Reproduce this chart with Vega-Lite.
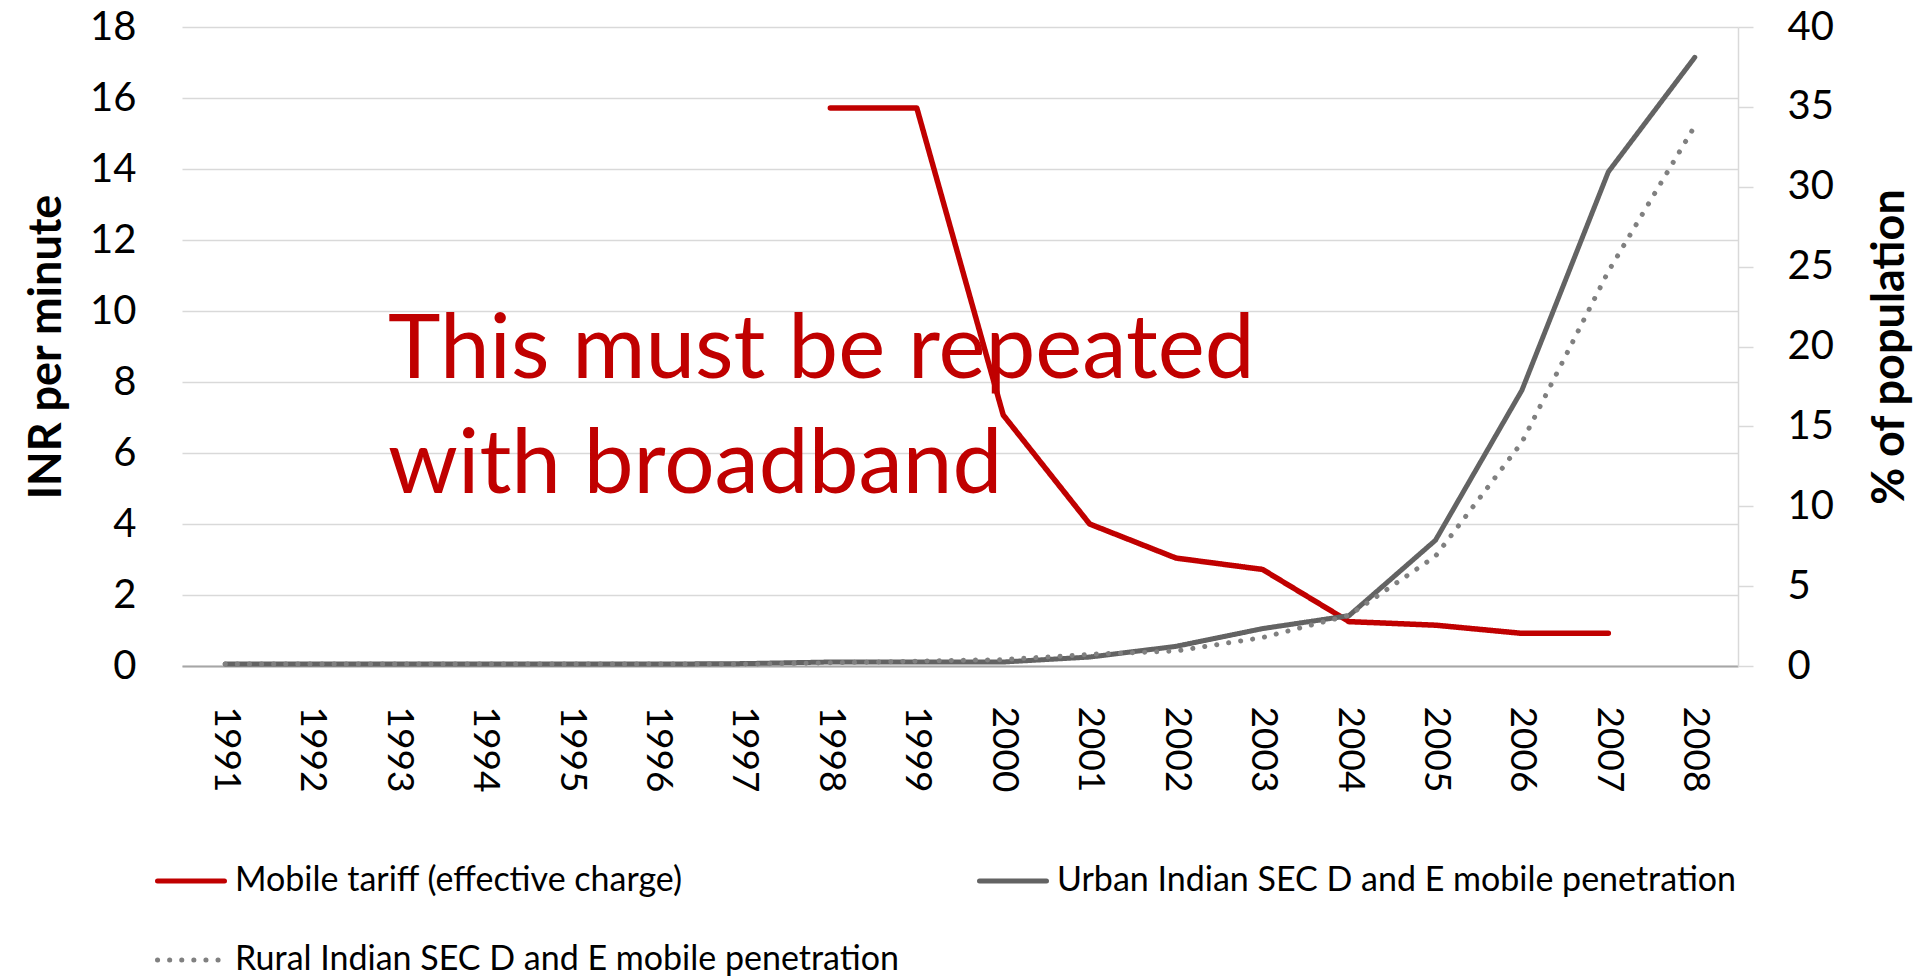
{
  "$schema": "https://vega.github.io/schema/vega-lite/v6.json",
  "width": 1556,
  "height": 639,
  "autosize": {"type": "none"},
  "padding": {"left": 182, "top": 27, "right": 177, "bottom": 313},
  "background": "white",
  "config": {
    "view": {"stroke": null},
    "font": "Lato",
    "axis": {"labelFont": "Lato", "titleFont": "Lato", "labelColor": "#000000", "titleColor": "#000000"}
  },
  "datasets": {
    "series": [
      {"year": "1998", "series": "Mobile tariff (effective charge)", "v": 15.72},
      {"year": "1999", "series": "Mobile tariff (effective charge)", "v": 15.72},
      {"year": "2000", "series": "Mobile tariff (effective charge)", "v": 7.07},
      {"year": "2001", "series": "Mobile tariff (effective charge)", "v": 4.0},
      {"year": "2002", "series": "Mobile tariff (effective charge)", "v": 3.04},
      {"year": "2003", "series": "Mobile tariff (effective charge)", "v": 2.72},
      {"year": "2004", "series": "Mobile tariff (effective charge)", "v": 1.25},
      {"year": "2005", "series": "Mobile tariff (effective charge)", "v": 1.15},
      {"year": "2006", "series": "Mobile tariff (effective charge)", "v": 0.92},
      {"year": "2007", "series": "Mobile tariff (effective charge)", "v": 0.92},
      {"year": "1991", "series": "Urban Indian SEC D and E mobile penetration", "v": 0.12},
      {"year": "1992", "series": "Urban Indian SEC D and E mobile penetration", "v": 0.12},
      {"year": "1993", "series": "Urban Indian SEC D and E mobile penetration", "v": 0.12},
      {"year": "1994", "series": "Urban Indian SEC D and E mobile penetration", "v": 0.12},
      {"year": "1995", "series": "Urban Indian SEC D and E mobile penetration", "v": 0.12},
      {"year": "1996", "series": "Urban Indian SEC D and E mobile penetration", "v": 0.12},
      {"year": "1997", "series": "Urban Indian SEC D and E mobile penetration", "v": 0.15},
      {"year": "1998", "series": "Urban Indian SEC D and E mobile penetration", "v": 0.25},
      {"year": "1999", "series": "Urban Indian SEC D and E mobile penetration", "v": 0.25},
      {"year": "2000", "series": "Urban Indian SEC D and E mobile penetration", "v": 0.25},
      {"year": "2001", "series": "Urban Indian SEC D and E mobile penetration", "v": 0.56},
      {"year": "2002", "series": "Urban Indian SEC D and E mobile penetration", "v": 1.23},
      {"year": "2003", "series": "Urban Indian SEC D and E mobile penetration", "v": 2.34},
      {"year": "2004", "series": "Urban Indian SEC D and E mobile penetration", "v": 3.15},
      {"year": "2005", "series": "Urban Indian SEC D and E mobile penetration", "v": 7.87},
      {"year": "2006", "series": "Urban Indian SEC D and E mobile penetration", "v": 17.26},
      {"year": "2007", "series": "Urban Indian SEC D and E mobile penetration", "v": 30.93},
      {"year": "2008", "series": "Urban Indian SEC D and E mobile penetration", "v": 38.1},
      {"year": "1991", "series": "Rural Indian SEC D and E mobile penetration", "v": 0.12},
      {"year": "1992", "series": "Rural Indian SEC D and E mobile penetration", "v": 0.12},
      {"year": "1993", "series": "Rural Indian SEC D and E mobile penetration", "v": 0.12},
      {"year": "1994", "series": "Rural Indian SEC D and E mobile penetration", "v": 0.12},
      {"year": "1995", "series": "Rural Indian SEC D and E mobile penetration", "v": 0.12},
      {"year": "1996", "series": "Rural Indian SEC D and E mobile penetration", "v": 0.12},
      {"year": "1997", "series": "Rural Indian SEC D and E mobile penetration", "v": 0.12},
      {"year": "1998", "series": "Rural Indian SEC D and E mobile penetration", "v": 0.2},
      {"year": "1999", "series": "Rural Indian SEC D and E mobile penetration", "v": 0.3},
      {"year": "2000", "series": "Rural Indian SEC D and E mobile penetration", "v": 0.4},
      {"year": "2001", "series": "Rural Indian SEC D and E mobile penetration", "v": 0.73},
      {"year": "2002", "series": "Rural Indian SEC D and E mobile penetration", "v": 0.94},
      {"year": "2003", "series": "Rural Indian SEC D and E mobile penetration", "v": 1.78},
      {"year": "2004", "series": "Rural Indian SEC D and E mobile penetration", "v": 3.17},
      {"year": "2005", "series": "Rural Indian SEC D and E mobile penetration", "v": 6.87},
      {"year": "2006", "series": "Rural Indian SEC D and E mobile penetration", "v": 14.0},
      {"year": "2007", "series": "Rural Indian SEC D and E mobile penetration", "v": 24.7},
      {"year": "2008", "series": "Rural Indian SEC D and E mobile penetration", "v": 33.8}
    ],
    "note": [
      {"year": "1993", "v": 8.12, "label": "This must be repeated"},
      {"year": "1993", "v": 4.87, "label": "with broadband"}
    ]
  },
  "encoding": {
    "x": {
      "field": "year",
      "type": "ordinal",
      "scale": {"type": "point", "padding": 0.5},
      "axis": {
        "title": null,
        "labelAngle": 90,
        "labelFontSize": 37,
        "labelPadding": 40,
        "ticks": false,
        "domain": true,
        "domainColor": "#a6a6a6",
        "domainWidth": 2,
        "grid": false
      }
    }
  },
  "layer": [
    {
      "layer": [
        {
          "data": {"name": "series"},
          "transform": [{"filter": "datum.series === 'Mobile tariff (effective charge)'"}],
          "mark": {"type": "line", "strokeWidth": 5.5, "strokeCap": "round", "strokeJoin": "round"},
          "encoding": {
            "y": {
              "field": "v",
              "type": "quantitative",
              "scale": {"domain": [0, 18], "nice": false},
              "axis": {
                "title": "INR per minute",
                "titleFontSize": 45,
                "titleFontWeight": "bold",
                "titlePadding": 20,
                "values": [0, 2, 4, 6, 8, 10, 12, 14, 16, 18],
                "labelFontSize": 40,
                "labelPadding": 46,
                "domain": false,
                "ticks": false,
                "grid": true,
                "gridColor": "#d9d9d9",
                "gridWidth": 1.5
              }
            },
            "color": {
              "field": "series",
              "type": "nominal",
              "scale": {
                "domain": ["Mobile tariff (effective charge)", "Rural Indian SEC D and E mobile penetration", "Urban Indian SEC D and E mobile penetration"],
                "range": ["#C00000", "#808080", "#636363"]
              },
              "legend": {
                "title": null, "orient": "none", "legendX": -27, "legendY": 818, "columns": 2,
                "values": ["Mobile tariff (effective charge)", "Rural Indian SEC D and E mobile penetration", "Urban Indian SEC D and E mobile penetration"],
                "columnPadding": 70, "rowPadding": 26, "symbolType": "stroke", "symbolSize": 4489,
                "symbolStrokeWidth": 5, "labelFontSize": 34, "labelFont": "Lato", "labelColor": "#000000",
                "labelOffset": 8, "labelLimit": 0, "padding": 0,
                "encode": {"symbols": {"update": {"strokeCap": {"value": "round"}}}}
              }
            },
            "strokeDash": {
              "field": "series",
              "type": "nominal",
              "scale": {
                "domain": ["Mobile tariff (effective charge)", "Rural Indian SEC D and E mobile penetration", "Urban Indian SEC D and E mobile penetration"],
                "range": [[1, 0], [0.1, 12], [1, 0]]
              },
              "legend": {
                "title": null, "orient": "none", "legendX": -27, "legendY": 818, "columns": 2,
                "values": ["Mobile tariff (effective charge)", "Rural Indian SEC D and E mobile penetration", "Urban Indian SEC D and E mobile penetration"],
                "columnPadding": 70, "rowPadding": 26, "symbolType": "stroke", "symbolSize": 4489,
                "symbolStrokeWidth": 5, "labelFontSize": 34, "labelFont": "Lato", "labelColor": "#000000",
                "labelOffset": 8, "labelLimit": 0, "padding": 0,
                "encode": {"symbols": {"update": {"strokeCap": {"value": "round"}}}}
              }
            }
          }
        },
        {
          "data": {"name": "note"},
          "mark": {"type": "text", "align": "left", "baseline": "alphabetic", "font": "Lato", "fontSize": 89, "color": "#C00000", "dx": -10},
          "encoding": {
            "y": {
              "field": "v",
              "type": "quantitative",
              "scale": {"domain": [0, 18], "nice": false},
              "axis": {
                "title": "INR per minute",
                "titleFontSize": 45,
                "titleFontWeight": "bold",
                "titlePadding": 20,
                "values": [0, 2, 4, 6, 8, 10, 12, 14, 16, 18],
                "labelFontSize": 40,
                "labelPadding": 46,
                "domain": false,
                "ticks": false,
                "grid": true,
                "gridColor": "#d9d9d9",
                "gridWidth": 1.5
              }
            },
            "text": {"field": "label"}
          }
        }
      ]
    },
    {
      "layer": [
        {
          "data": {"name": "series"},
          "transform": [{"filter": "datum.series === 'Urban Indian SEC D and E mobile penetration'"}],
          "mark": {"type": "line", "strokeWidth": 5, "strokeCap": "round", "strokeJoin": "round"},
          "encoding": {
            "y": {
              "field": "v",
              "type": "quantitative",
              "scale": {"domain": [0, 40], "nice": false},
              "axis": {
                "orient": "right",
                "title": "% of  population",
                "titleAngle": -90,
                "titleFontSize": 45,
                "titleFontWeight": "bold",
                "titlePadding": 79,
                "values": [0, 5, 10, 15, 20, 25, 30, 35, 40],
                "labelFontSize": 40,
                "labelPadding": 34,
                "domain": true,
                "domainColor": "#d9d9d9",
                "domainWidth": 1.5,
                "ticks": true,
                "tickSize": 15,
                "tickColor": "#d9d9d9",
                "tickWidth": 1.5,
                "grid": false
              }
            },
            "color": {
              "field": "series",
              "type": "nominal",
              "scale": {
                "domain": ["Mobile tariff (effective charge)", "Rural Indian SEC D and E mobile penetration", "Urban Indian SEC D and E mobile penetration"],
                "range": ["#C00000", "#808080", "#636363"]
              }
            },
            "strokeDash": {
              "field": "series",
              "type": "nominal",
              "scale": {
                "domain": ["Mobile tariff (effective charge)", "Rural Indian SEC D and E mobile penetration", "Urban Indian SEC D and E mobile penetration"],
                "range": [[1, 0], [0.1, 12], [1, 0]]
              }
            }
          }
        },
        {
          "data": {"name": "series"},
          "transform": [{"filter": "datum.series === 'Rural Indian SEC D and E mobile penetration'"}],
          "mark": {"type": "line", "strokeWidth": 5, "strokeCap": "round", "strokeJoin": "round"},
          "encoding": {
            "y": {
              "field": "v",
              "type": "quantitative",
              "scale": {"domain": [0, 40], "nice": false},
              "axis": {
                "orient": "right",
                "title": "% of  population",
                "titleAngle": -90,
                "titleFontSize": 45,
                "titleFontWeight": "bold",
                "titlePadding": 79,
                "values": [0, 5, 10, 15, 20, 25, 30, 35, 40],
                "labelFontSize": 40,
                "labelPadding": 34,
                "domain": true,
                "domainColor": "#d9d9d9",
                "domainWidth": 1.5,
                "ticks": true,
                "tickSize": 15,
                "tickColor": "#d9d9d9",
                "tickWidth": 1.5,
                "grid": false
              }
            },
            "color": {
              "field": "series",
              "type": "nominal",
              "scale": {
                "domain": ["Mobile tariff (effective charge)", "Rural Indian SEC D and E mobile penetration", "Urban Indian SEC D and E mobile penetration"],
                "range": ["#C00000", "#808080", "#636363"]
              }
            },
            "strokeDash": {
              "field": "series",
              "type": "nominal",
              "scale": {
                "domain": ["Mobile tariff (effective charge)", "Rural Indian SEC D and E mobile penetration", "Urban Indian SEC D and E mobile penetration"],
                "range": [[1, 0], [0.1, 12], [1, 0]]
              }
            }
          }
        }
      ]
    }
  ],
  "resolve": {"scale": {"y": "independent"}}
}
